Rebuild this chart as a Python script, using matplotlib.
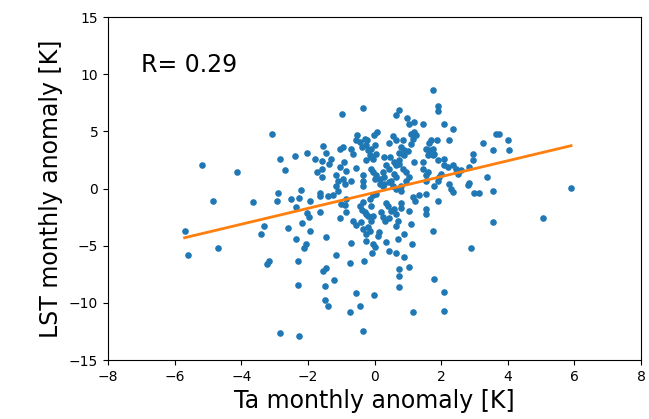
import numpy as np
import matplotlib
matplotlib.use('Agg')
import matplotlib.pyplot as plt

# monthly anomalies (K)
ta = [
    -5.70, -5.60, -5.17, -4.84, -4.69, -4.12, -3.64, -3.40, -3.31, -3.22,
    -3.17, -3.07, -2.93, -2.89, -2.83, -2.83, -2.69, -2.59, -2.50, -2.40,
    -2.35, -2.35, -2.31, -2.31, -2.26, -2.26, -2.21, -2.17, -2.12, -2.07,
    -2.02, -2.02, -1.97, -1.95, -1.93, -1.78, -1.74, -1.64, -1.64, -1.64,
    -1.59, -1.59, -1.59, -1.54, -1.45, -1.37, -1.40, -1.54, -1.45, -1.50,
    -1.50, -1.40, -1.45, -1.30,
    -0.97, -0.35, -0.52, -0.55, -0.30, -0.23, 0.07, -0.02, -0.25, -0.10,
    -0.45, -0.37, -0.95, -1.05, -0.70, -0.65, -0.93, -1.05, -0.10, -0.05,
    -0.25, -0.20, -0.15, 0.05, -0.55, -0.85, -0.35, -0.35, -0.35, -0.95,
    -0.90, -1.15, -1.25, -1.15, -1.10, -0.10, -0.05, 0.05, 0.00, -0.70,
    -1.10, -0.85, -0.90, -1.00, -0.85, -1.05, -0.35, -0.45, -0.39, -0.25,
    -0.15, -0.10, -0.05, 0.05, -0.30, -0.20, -0.05, -0.10, -0.40, -0.65,
    -0.55, -0.20, -0.15, -0.25, -0.35, -0.25, -0.05, 0.00, -0.07, -0.70,
    -1.17, -0.32, -0.73, -1.22, -0.55, -0.02, -0.45, -0.73, -0.35,
    0.73, 0.65, 0.98, 1.05, 1.18, 0.55, 0.45, 0.65, 0.85, 1.10,
    1.20, 1.25, 1.15, 1.10, 0.80, 0.75, 0.85, 0.90, 1.00, 0.90,
    0.75, 0.27, 0.47, 0.00, 0.60, 0.65, 0.75, 0.85, 1.20, 0.35,
    0.45, 0.25, 0.30, 0.95, 0.60, 0.65, 0.50, 0.15, 0.30, 0.15,
    0.45, 0.25, 0.55, 0.65, 0.80, 0.80, 0.95, 1.05, 0.35, 0.40,
    0.50, 0.20, 0.25, 0.60, 0.65, 0.80, 0.80, 0.45, 0.33, 0.70,
    0.65, 1.05, 1.23, 1.15, 1.35, 1.10, 0.13, 0.10, 0.90, 0.70,
    0.35, 1.13, 0.45, 0.65, 0.90, 0.75, 0.75, 1.03, 0.75, 1.17,
    1.75, 1.90, 1.90, 1.47, 2.08, 2.37, 1.65, 1.70, 1.88, 2.25,
    1.55, 1.65, 1.75, 1.80, 1.60, 1.75, 1.45, 1.45, 1.55, 1.60,
    1.90, 2.10, 2.10, 2.20, 2.35, 2.45, 2.50, 1.95, 2.00, 1.55,
    1.90, 1.80, 2.25, 2.30, 2.35, 2.95, 2.95, 1.55, 1.90, 1.55,
    1.55, 1.75, 1.80, 2.08, 2.08, 3.00, 2.60, 2.85, 2.83, 2.80,
    3.13, 2.90,
    3.65, 3.75, 3.27, 4.00, 3.55, 4.05, 3.37, 3.55, 5.90, 3.55, 5.05,
]
lst = [
    -3.71, -5.79, 2.02, -1.05, -5.24, 1.46, -1.20, -4.01, -3.31, -6.64,
    -6.34, 4.80, -1.05, -0.35, 2.54, -12.63, 1.61, -3.42, -0.90, 2.83,
    -1.61, -4.41, -6.34, -8.45, -0.79, -12.90, -0.09, -3.01, -5.24, -4.82,
    3.13, -2.17, -2.46, -3.71, -1.05, 2.54, 1.46, -0.35, -0.64, -2.02,
    2.43, 1.73, 1.03, 3.71, 3.13, 2.17, -0.64, -7.19, -6.93, -8.57,
    -9.71, -10.26, -4.27, 2.54,
    6.49, 7.08, 4.65, 4.21, 4.36, 4.21, 4.94, 4.65, 3.77, 3.48,
    4.04, 3.62, 3.62, 3.48, 3.48, 3.04, 2.31, 1.87, 2.75, 2.54,
    2.46, 3.33, 2.89, 3.04, 1.82, 1.52, 1.14, 0.70, 0.26, 0.85,
    0.41, 0.18, -0.61, 1.14, 0.70, 1.73, 1.43, 1.14, 0.85, 0.70,
    -0.18, -0.90, -1.40, -1.34, -2.08, -2.55, -1.19, -1.49, -1.84, -2.22,
    -0.90, -1.49, -0.61, -0.46, -2.08, -2.37, -2.37, -2.81, -2.96, -2.87,
    -3.16, -3.39, -3.68, -3.97, -3.54, -4.56, -4.85, -5.15, -5.68, -4.80,
    -5.79, -6.38, -6.49, -8.01, -9.15, -9.30, -10.26, -10.82, -12.48,
    6.90, 6.46, 6.20, 5.68, 5.79, 4.56, 3.97, 4.27, 4.27, 4.80,
    4.94, 4.65, 4.36, 3.92, 3.62, 3.10, 3.04, 3.33, 3.25, 2.89,
    2.52, 2.72, 2.72, 3.77, 2.31, 2.02, 2.17, 1.73, 2.31, 2.02,
    1.73, 1.43, 0.99, 1.43, 1.29, 0.99, 0.70, 0.41, 0.41, 0.85,
    0.55, 0.26, 0.18, -0.03, -0.18, 0.26, 0.70, 0.99, -1.28, -1.49,
    -1.93, -2.08, -2.52, -1.78, -2.22, -1.23, -1.67, -2.56, -2.87, -2.81,
    -3.25, -1.93, -1.05, -0.76, -0.61, -3.10, -3.83, -4.12, -3.97, -4.41,
    -4.71, -4.85, -5.44, -5.68, -5.96, -7.04, -7.63, -6.90, -8.60, -10.82,
    8.60, 7.19, 6.78, 5.68, 5.68, 5.20, 3.97, 4.21, 4.27, 4.21,
    3.48, 3.39, 3.48, 3.04, 2.89, 2.89, 2.31, 1.73, 1.14, 1.43,
    2.46, 2.60, 2.02, 1.87, 2.02, 1.73, 1.29, 0.99, 1.29, 0.70,
    0.70, 0.26, 0.41, -0.03, -0.32, 2.98, 2.52, -0.46, -1.05, -1.78,
    -2.22, -3.75, -7.89, -9.01, -10.68, -0.41, 1.58, 1.87, 0.46, 0.32,
    -0.35, -5.24,
    4.80, 4.80, 3.97, 4.21, 3.39, 3.39, 0.99, -0.24, 0.06, -2.89, -2.54,
]
# regression line as drawn in the reference
fit_slope = 0.694
fit_intercept = -0.35
r_label = 'R= 0.29'


def plot_anomaly_scatter(x, y):
    x = np.array(x)
    y = np.array(y)
    fig = plt.figure(figsize=(6.49, 4.19), dpi=100)
    ax = fig.add_axes([0.1664, 0.1408, 0.8213, 0.8186])
    ax.scatter(x, y, s=14, color='#1f77b4')
    xs = np.array([x.min(), x.max()])
    ax.plot(xs, fit_slope * xs + fit_intercept, color='#ff7f0e', lw=2)
    ax.text(-7, 10.2, r_label, fontsize=17)
    ax.set_xlim(-8, 8)
    ax.set_ylim(-15, 15)
    ax.tick_params(labelsize=10)
    ax.set_xlabel('Ta monthly anomaly [K]', fontsize=17)
    ax.set_ylabel('LST monthly anomaly [K]', fontsize=17)
    fig.savefig('out.png', dpi=100)


def main():
    plot_anomaly_scatter(ta, lst)


if __name__ == '__main__':
    main()
